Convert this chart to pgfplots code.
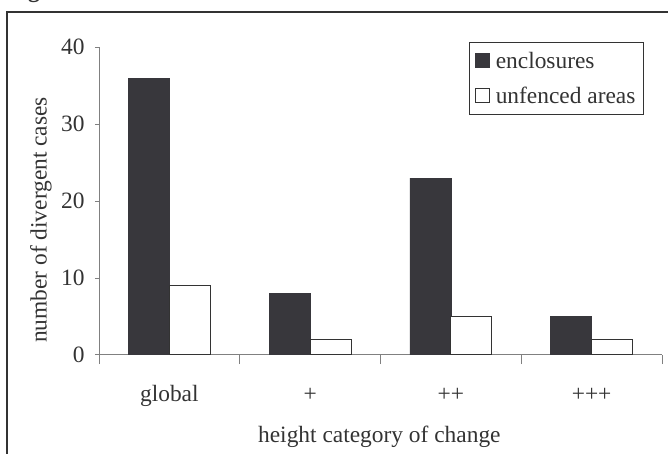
\documentclass[border=0pt]{standalone}
\usepackage{fontspec}
\setmainfont{Liberation Serif}
\usepackage{pgfplots}
\pgfplotsset{compat=1.18}
\definecolor{barc}{HTML}{38373C}
\definecolor{txt}{HTML}{333333}
\definecolor{axc}{HTML}{808080}
\begin{document}
\begin{tikzpicture}[x=1bp,y=1bp]
\begin{axis}[
  at={(99bp,99bp)}, anchor=south west,
  scale only axis, width=563bp, height=307.7bp,
  xmin=-0.5, xmax=3.5, ymin=0, ymax=40,
  axis x line=bottom, axis y line=left,
  axis line style={-, draw=axc, line width=1bp},
  font=\fontsize{23.5}{28}\selectfont,
  /pgf/number format/assume math mode=true,
  xtick={0,1,2,3}, xticklabels={global,+,++,+++},
  minor xtick={-0.5,0.5,1.5,2.5,3.5},
  ytick={0,10,20,30,40},
  tick align=outside, major tick length=4bp, minor tick length=9bp,
  tick style={draw=axc, line width=1bp},
  every major x tick/.append style={draw=none},
  xticklabel style={anchor=base, yshift=-42bp},
  yticklabel style={xshift=-7bp},
  tick label style={text=txt},
  xlabel={height category of change},
  ylabel={number of divergent cases},
  label style={text=txt},
  xlabel style={at={(axis description cs:0.498,-0.2847)}, anchor=base},
  ylabel style={at={(axis description cs:-0.103,0.4387)}, anchor=center},
  legend cell align=left,
  legend style={at={(axis description cs:0.968,1.018)}, anchor=north east,
    draw=txt, line width=1bp, text=txt,
    inner xsep=5bp, inner ysep=8bp, row sep=14bp, column sep=3bp,
    nodes={inner xsep=3bp, inner ysep=0pt, text height=18bp, text depth=3bp}},
  legend image code/.code={\draw[#1, line width=1bp] (0bp,-7bp) rectangle (14bp,7bp);},
]
\addplot[ybar, bar width=41bp, bar shift=-20.5bp, fill=barc, draw=barc, line width=0.6bp]
  coordinates {(0,36) (1,8) (2,23) (3,5)};
\addlegendentry{enclosures}
\addplot[ybar, bar width=41bp, bar shift=20.5bp, fill=white, draw=txt, line width=1.2bp]
  coordinates {(0,9) (1,2) (2,5) (3,2)};
\addlegendentry{unfenced areas}
\end{axis}
\draw[color=txt, line width=2.5bp] (7bp,-5bp) -- (7bp,442bp) -- (690bp,442bp);
\node[font=\bfseries\fontsize{23.5}{28}\selectfont, anchor=base, text=txt, inner sep=0pt] at (34bp,456bp) {g};
\pgfresetboundingbox
\path[use as bounding box] (0,0) rectangle (668bp,454bp);
\end{tikzpicture}
\end{document}
